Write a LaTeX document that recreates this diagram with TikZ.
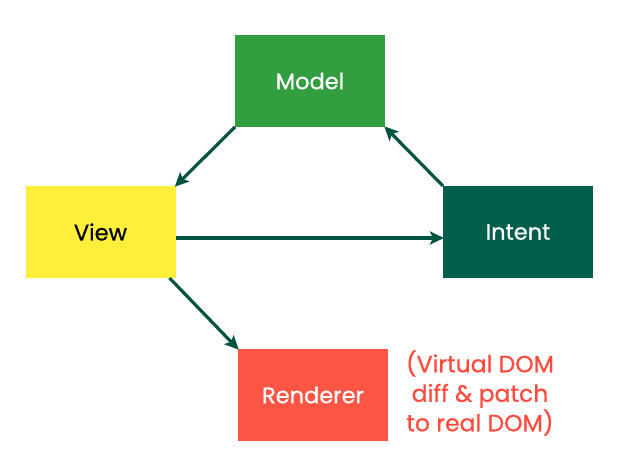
\documentclass[tikz,border=0pt]{standalone}
\usepackage{fontspec}
\setmainfont{Poppins}[FakeBold=0.6]
\usetikzlibrary{arrows.meta}
\definecolor{mgreen}{HTML}{339E40}
\definecolor{vyellow}{HTML}{FFEE3A}
\definecolor{idark}{HTML}{005E4A}
\definecolor{rred}{HTML}{FF5544}
\definecolor{arrowc}{HTML}{00533F}
\definecolor{notec}{HTML}{FF4A3D}
\tikzset{
  box/.style={rectangle, minimum width=150pt, minimum height=92pt, inner sep=0pt, outer sep=0pt, font=\fontsize{22.5}{27}\selectfont},
  conn/.style={draw=arrowc, line width=3.2pt, -{Stealth[length=14pt,width=13pt,inset=3pt]}, shorten >=-1pt},
  note/.style={align=center, text=notec, font=\fontsize{23.5}{29.5}\selectfont}
}
\begin{document}
\begin{tikzpicture}[x=1pt,y=-1pt]
\useasboundingbox (0,0) rectangle (626,462);
\node[box, fill=mgreen, text=white] (model) at (310,81) {Model};
\node[box, fill=vyellow, text=black] (view) at (100.5,232) {View};
\node[box, fill=idark, text=white] (intent) at (518,232) {Intent};
\node[box, fill=rred, text=white] (renderer) at (313,395) {Renderer};
\node[note] (note) at (480,393) {(Virtual DOM\\diff \& patch\\to real DOM)};
\draw[conn] (model.south west) -- (view.north east);
\draw[conn] (intent.north west) -- (model.south east);
\draw[conn] ([yshift=-6pt]view.east) -- ([yshift=-6pt]intent.west);
\draw[conn] ([xshift=-6pt]view.south east) -- (renderer.north west);
\end{tikzpicture}
\end{document}
